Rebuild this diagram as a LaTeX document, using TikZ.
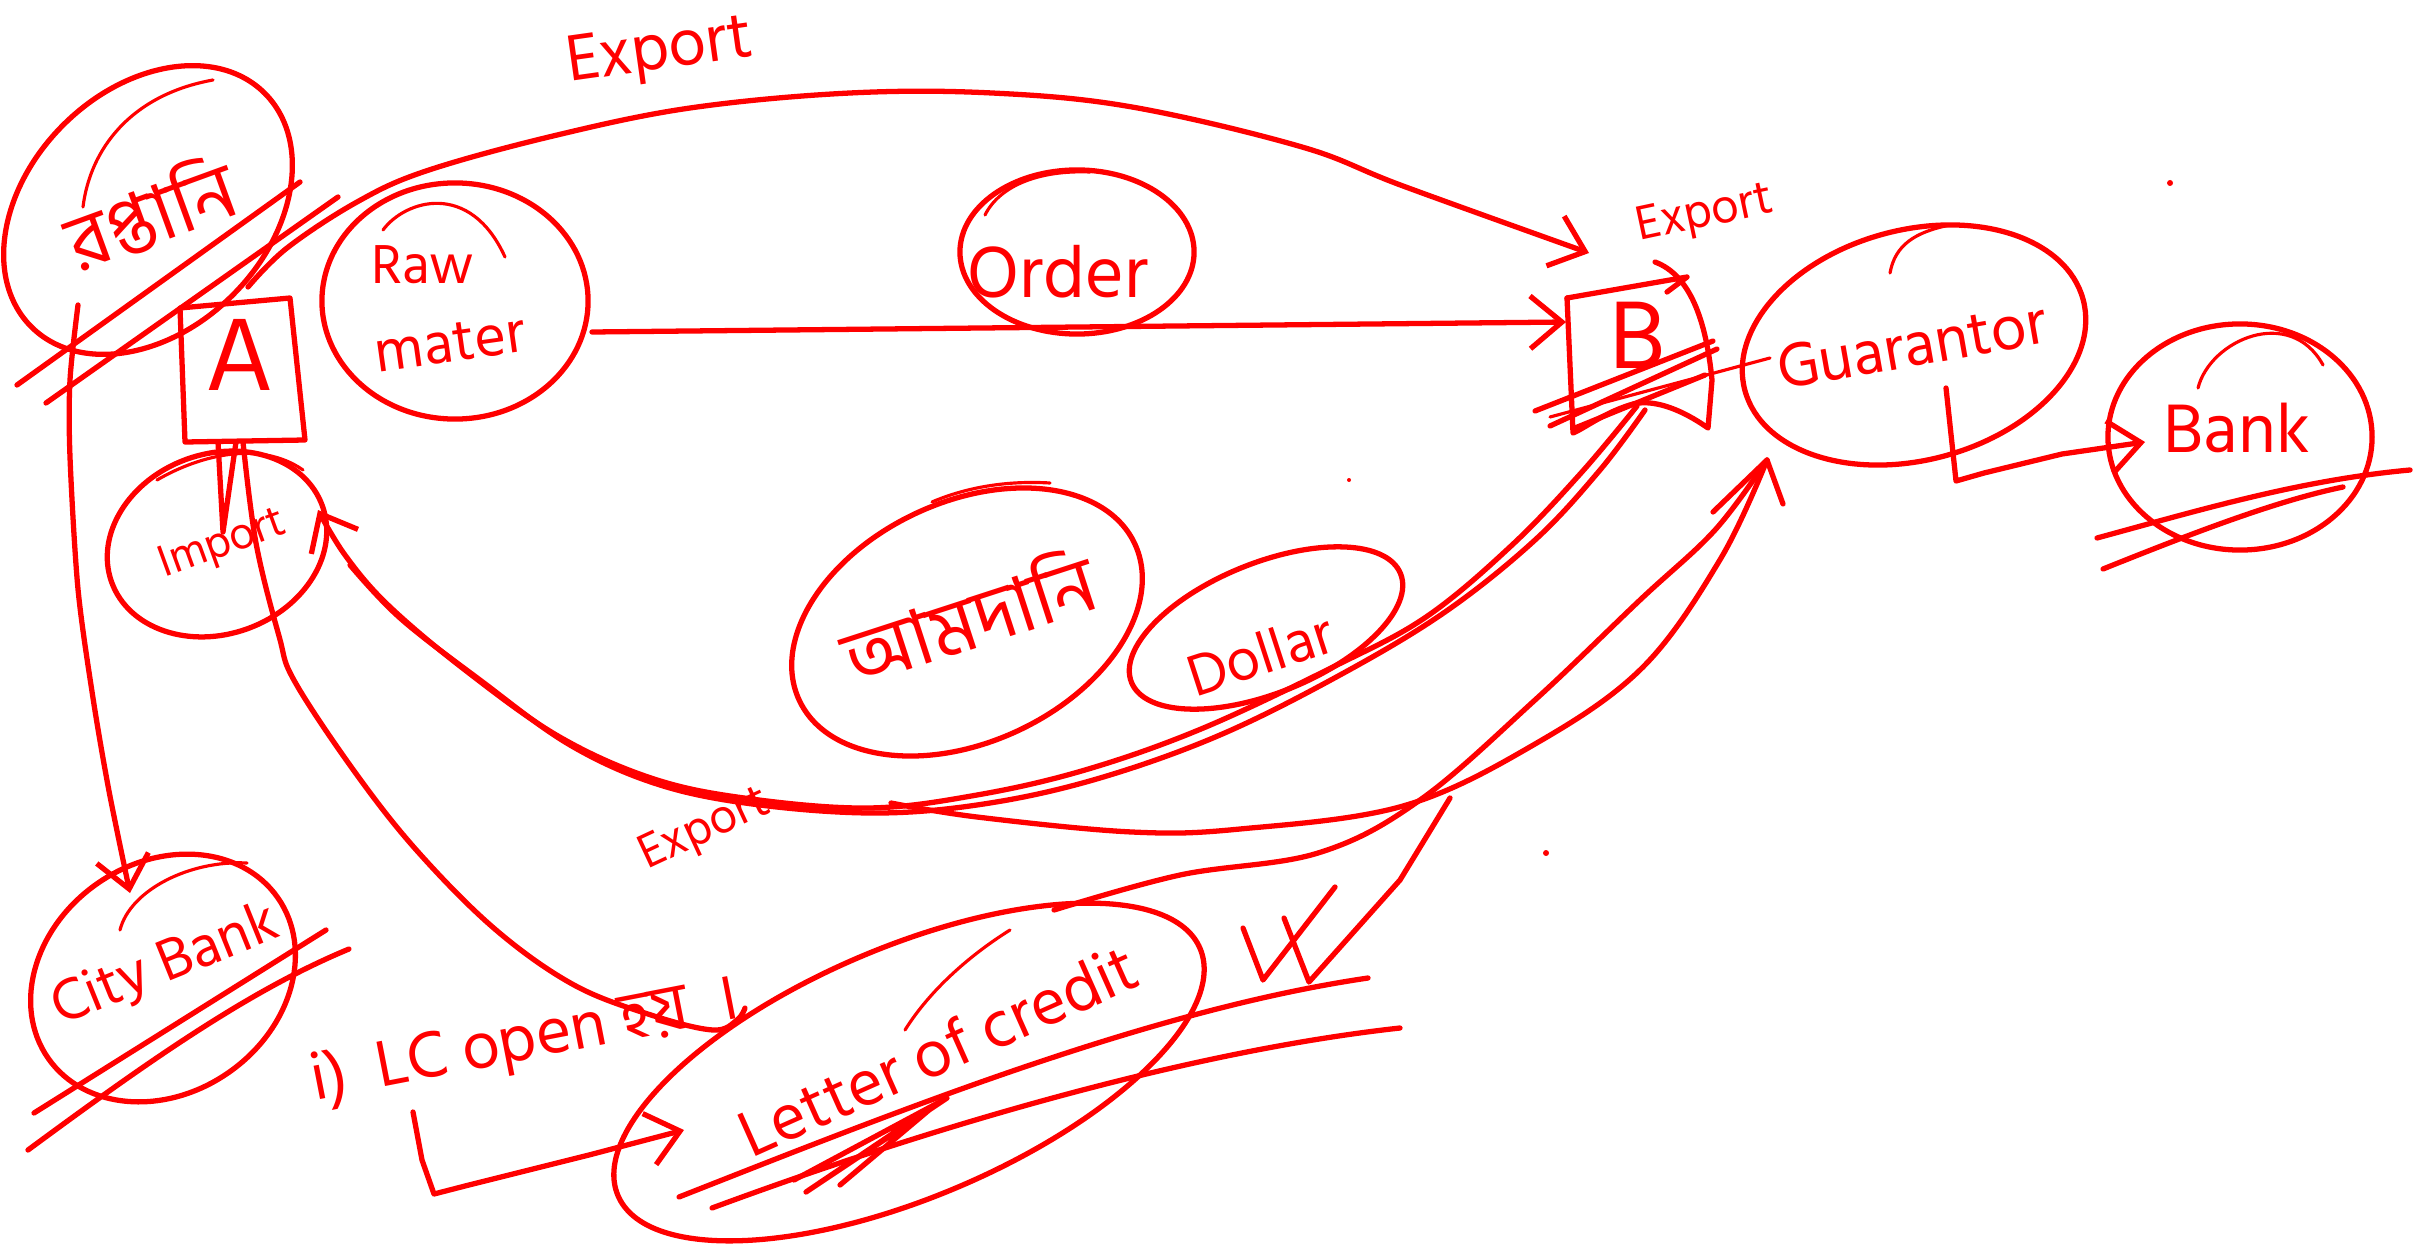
\documentclass[tikz,border=0pt]{standalone}
\usepackage{fontspec}
\setmainfont{Hind Siliguri}
\newfontfamily\bn[Script=Bengali]{Hind Siliguri}
\usetikzlibrary{shapes.geometric,arrows.meta}
\definecolor{ink}{RGB}{255,0,0}
\tikzset{
  inkline/.style={draw=ink, line width=1.5pt, line cap=round, line join=round},
  fineline/.style={draw=ink, line width=0.9pt, line cap=round, line join=round},
  bubble/.style={ellipse, draw=ink, line width=1.5pt, inner sep=0pt},
  hand/.style={text=ink, inner sep=0pt, font=\fontsize{#1}{#1}\selectfont},
  barb/.style={-{Straight Barb[length=9pt,width=15pt]}},
}
\begin{document}
\begin{tikzpicture}[x=0.01cm, y=-0.01cm]
\fill[white] (0,0) rectangle (2431,1252);
\useasboundingbox (0,0) rectangle (2431,1252);

% ---------- bubbles ----------
\node[bubble, minimum width=3.3cm, minimum height=2.4cm, rotate=45] (rapt) at (148,210) {};
\node[bubble, minimum width=2.66cm, minimum height=2.36cm] (raw) at (455,301) {};
\node[bubble, minimum width=2.34cm, minimum height=1.64cm] (order) at (1077,252) {};
\node[bubble, minimum width=3.5cm, minimum height=2.3cm, rotate=15] (guar) at (1914,345) {};
\node[bubble, minimum width=2.64cm, minimum height=2.26cm] (bank) at (2240,437) {};
\node[bubble, minimum width=2.24cm, minimum height=1.8cm, rotate=20] (imp) at (217,544) {};
\node[bubble, minimum width=3.7cm, minimum height=2.4cm, rotate=25] (amd) at (967,622) {};
\node[bubble, minimum width=2.9cm, minimum height=1.3cm, rotate=22] (dollar) at (1266,628) {};
\node[bubble, minimum width=2.8cm, minimum height=2.3cm, rotate=35] (city) at (163,978) {};
\node[bubble, minimum width=6.32cm, minimum height=2.5cm, rotate=23] (lc) at (909,1072) {};

% second strokes on the bubbles
\draw[fineline] (83,207) .. controls (90,150) and (130,95) .. (213,80);
\draw[fineline] (383,230) .. controls (405,200) and (470,180) .. (505,257);
\draw[fineline] (985,215) .. controls (1000,185) and (1040,170) .. (1090,172);
\draw[fineline] (1890,273) .. controls (1895,245) and (1915,232) .. (1950,225);
\draw[fineline] (2198,388) .. controls (2210,340) and (2290,305) .. (2323,365);
\draw[fineline] (157,480) .. controls (200,455) and (260,440) .. (303,470);
\draw[fineline] (932,502) .. controls (960,490) and (1000,480) .. (1050,483);
\draw[fineline] (120,930) .. controls (130,890) and (190,860) .. (247,863);
\draw[fineline] (905,1030) .. controls (930,990) and (970,955) .. (1010,930);

% ---------- box A ----------
\coordinate (aTL) at (180,308);
\coordinate (aTR) at (290,298);
\coordinate (aBR) at (305,440);
\coordinate (aBL) at (185,442);
\draw[inkline] (aTL) -- (aTR) -- (aBR) -- (aBL) -- cycle;
\node[hand=30] (A) at (240,355) {A};

% ---------- box B ----------
\coordinate (bTL) at (1567,298);
\coordinate (bTR) at (1687,277);
\coordinate (bBL) at (1573,433);
\coordinate (bBR) at (1708,428);
\draw[inkline] (bTL) -- (bTR) (1667,292) -- (bTR);
\draw[inkline] (1655,262) .. controls (1690,275) and (1706,320) .. (1712,380) -- (bBR)
  .. controls (1675,405) and (1650,400) .. (1633,404)
  .. controls (1605,412) and (1585,428) .. (bBL) -- (bTL);
\node[hand=28] (B) at (1638,335) {B};
\draw[inkline] (1535,411) -- (1713,341);
\draw[inkline] (1550,426) -- (1717,349);
\draw[inkline] (1575,428) -- (1705,375);
\draw[fineline] (1770,358) -- (1550,417);

% ---------- texts ----------
\node[hand=22, rotate=20] (raptT) at (150,212) {\bn রপ্তানি};
\node[hand=16] (rawT1) at (423,265) {Raw};
\node[hand=17, rotate=8] (rawT2) at (450,343) {mater};
\node[hand=21] (orderT) at (1058,272) {Order};
\node[hand=18, rotate=10] (guarT) at (1912,345) {Guarantor};
\node[hand=20] (bankT) at (2237,428) {Bank};
\node[hand=13, rotate=20] (impT) at (223,545) {Import};
\node[hand=22, rotate=18] (amdT) at (968,615) {\bn আমদানি};
\node[hand=17, rotate=18] (dollarT) at (1260,654) {Dollar};
\node[hand=17, rotate=22] (cityT) at (165,966) {City Bank};
\node[hand=19, rotate=24] (lcT) at (938,1050) {Letter of credit};
\node[hand=19, rotate=8] (expTop) at (660,53) {Export};
\node[hand=14, rotate=12] (expB) at (1705,215) {Export};
\node[hand=14, rotate=25] (expBot) at (705,830) {Export};
\node[hand=19, rotate=11] (lcopen) at (525,1042) {i)\ \ LC open {\bn হ^^^^09df}\ \ {\bn ।}};

% ---------- strike-throughs ----------
\draw[inkline] (17,385) -- (300,182);
\draw[inkline] (46,403) -- (338,197);
\draw[inkline] (34,1113) -- (326,930);
\draw[inkline] (28,1150) .. controls (150,1060) and (250,990) .. (349,949);
\draw[inkline] (2097,538) .. controls (2200,510) and (2300,480) .. (2410,470);
\draw[inkline] (2103,569) .. controls (2200,530) and (2280,500) .. (2343,487);
\draw[inkline] (679,1197) .. controls (900,1110) and (1150,1010) .. (1368,978);
\draw[inkline] (712,1208) .. controls (950,1120) and (1200,1050) .. (1400,1028);
\draw[inkline] (794,1180) -- (947,1098) -- (806,1192) -- (935,1105) -- (840,1185);

% ---------- connectors ----------
% Export: A to B along the top
\coordinate (aHook) at (248,287);
\coordinate (bTop) at (1589,253);
\draw[inkline, barb] plot[smooth, tension=0.6] coordinates {(aHook) (287,248) (357,202) (426,171) (553,136) (690,108) (850,93) (992,93) (1132,107) (1302,147) (1403,186) (bTop)};

% raw material to B
\coordinate (rawOut) at (592,332);
\coordinate (bLeft) at (1566,322);
\draw[inkline, barb] (rawOut) -- (bLeft);

% Export: B back to Import (double stroke)
\coordinate (bBottom) at (1637,406);
\coordinate (impIn) at (318,510);
\draw[inkline, barb] plot[smooth, tension=0.6] coordinates {(bBottom) (1581,473) (1511,546) (1426,617) (1333,667) (1201,729) (1085,770) (977,795) (868,808) (744,798) (651,778) (558,736) (465,670) (388,605) (345,555) (impIn)};
\draw[inkline] plot[smooth, tension=0.6] coordinates {(1645,410) (1600,470) (1535,540) (1445,612) (1340,675) (1220,735) (1100,778) (990,803) (880,813) (760,805) (660,785) (570,745) (480,680) (400,618) (350,565)};

% to Guarantor
\coordinate (guarIn) at (1767,460);
\draw[inkline] plot[smooth, tension=0.6] coordinates {(891,803) (977,817) (1132,832) (1240,829) (1403,806) (1535,744) (1643,667) (1721,558) (guarIn)};
\draw[inkline] plot[smooth, tension=0.6] coordinates {(1054,910) (1180,875) (1318,853) (1420,800) (1535,700) (1640,600) (1715,530) (guarIn)};
\draw[inkline] (1713,512) -- (guarIn) -- (1783,504);
\draw[inkline] (1243,928) -- (1263,980) -- (1335,887);
\draw[inkline] (1284,918) -- (1309,982) -- (1400,880) -- (1450,798);

% Guarantor to Bank
\coordinate (guarOut) at (1946,388);
\coordinate (bankIn) at (2145,442);
\draw[inkline, barb] (guarOut) -- (1956,481) -- (1984,473) -- (2062,454) -- (bankIn);

% left branch down to City Bank
\coordinate (raptOut) at (78,305);
\coordinate (cityIn) at (130,893);
\draw[inkline, barb] plot[smooth, tension=0.5] coordinates {(raptOut) (70,380) (70,457) (78,589) (93,698) (109,791) (cityIn)};

% Import up to A, and on to the LC note
\draw[inkline] (218,442) -- (223,532) -- (236,442);
\draw[inkline] plot[smooth, tension=0.6] coordinates {(243,442) (256,543) (279,636) (295,682) (357,775) (419,853) (496,930) (574,985) (651,1015) (713,1030) (737,1020) (745,1008)};

% LC opens: arrow into the letter of credit
\coordinate (lcIn) at (684,1130);
\draw[inkline, barb] (413,1112) -- (422,1160) -- (434,1194) -- (465,1186) -- (589,1155) -- (lcIn);

% stray marks
\fill[ink] (2170,183) circle (3);
\fill[ink] (1349,480) circle (2);
\fill[ink] (1546,853) circle (3);
\end{tikzpicture}
\end{document}
